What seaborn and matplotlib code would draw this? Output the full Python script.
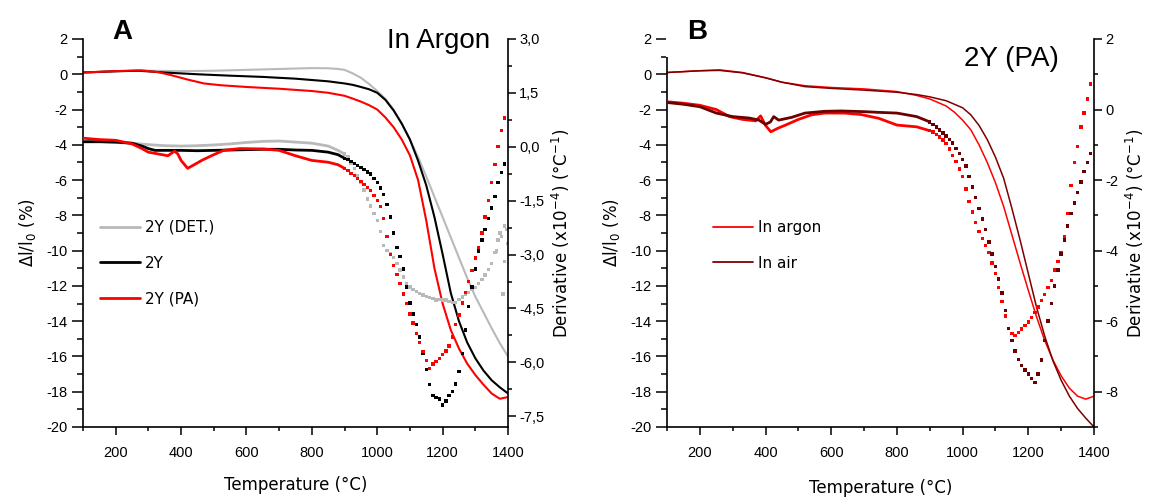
import numpy as np
import matplotlib
matplotlib.use("Agg")
import matplotlib.pyplot as plt
import seaborn as sns
from matplotlib.ticker import MultipleLocator, FuncFormatter
from matplotlib.patches import Rectangle
from matplotlib.lines import Line2D

# ------------------------------------------------------------------ data
# ---- Panel A : dilatometric curves (left axis, %)
tA_det = [100,150,200,250,300,400,500,600,700,800,850,880,900,925,950,975,1000,1025,1050,1075,1100,1125,1150,1175,1200,1225,1250,1275,1300,1325,1350,1375,1400]
lA_det = [0.1,0.13,0.17,0.2,0.2,0.18,0.2,0.25,0.3,0.35,0.34,0.3,0.25,0.05,-0.2,-0.55,-0.95,-1.4,-2.0,-2.8,-3.7,-4.7,-5.8,-6.95,-8.1,-9.25,-10.4,-11.55,-12.6,-13.5,-14.4,-15.25,-16.0]

tA_2y = [100,200,270,350,450,550,650,750,850,900,925,950,975,1000,1025,1050,1075,1100,1125,1150,1175,1200,1225,1250,1275,1300,1325,1350,1375,1400]
lA_2y = [0.1,0.17,0.2,0.1,0.0,-0.08,-0.15,-0.25,-0.4,-0.52,-0.6,-0.72,-0.85,-1.05,-1.45,-2.05,-2.8,-3.7,-4.9,-6.3,-8.1,-10.2,-12.4,-14.0,-15.2,-16.1,-16.8,-17.35,-17.75,-18.1]

tA_pa = [100,200,280,330,370,420,470,520,600,700,800,850,900,925,950,975,1000,1025,1050,1075,1100,1125,1150,1175,1200,1225,1250,1275,1300,1325,1350,1375,1400]
lA_pa = [0.1,0.18,0.22,0.12,-0.05,-0.3,-0.52,-0.62,-0.72,-0.82,-0.95,-1.05,-1.22,-1.38,-1.55,-1.75,-2.0,-2.45,-3.0,-3.7,-4.6,-6.0,-8.3,-11.0,-13.0,-14.5,-15.55,-16.4,-17.05,-17.6,-18.1,-18.4,-18.3]

# ---- Panel A : derivatives (right axis, x1e-4 /°C)
# low-temperature part (dense points, drawn as a trace)
tdA_2y_low = [100,150,200,250,280,300,320,350,400,450,500,550,600,650,700,750,800,850,880,900]
dA_2y_low = [0.14,0.14,0.13,0.1,0.02,-0.05,-0.1,-0.1,-0.1,-0.11,-0.1,-0.09,-0.08,-0.07,-0.07,-0.09,-0.1,-0.15,-0.22,-0.32]
tdA_pa_low = [100,150,200,250,280,300,330,360,380,390,400,420,440,465,500,530,580,650,700,750,800,850,880,900]
dA_pa_low = [0.24,0.2,0.18,0.08,-0.05,-0.15,-0.2,-0.25,-0.12,-0.2,-0.38,-0.6,-0.5,-0.37,-0.22,-0.1,-0.05,-0.06,-0.1,-0.25,-0.38,-0.43,-0.5,-0.6]
tdA_det_low = [100,150,200,250,300,350,400,450,500,550,600,650,700,750,800,850,880,900]
dA_det_low = [0.14,0.15,0.12,0.1,0.06,0.03,0.02,0.03,0.05,0.08,0.12,0.15,0.16,0.13,0.1,0.02,-0.1,-0.2]

# high-temperature part, one point every 10 °C from 900 to 1390 °C
t_high = np.arange(900, 1400, 10)
dA_2y_high = [-0.32,-0.36,-0.41,-0.46,-0.52,-0.58,-0.64,-0.70,-0.76,-0.88,
              -1.0,-1.15,-1.33,-1.6,-1.95,-2.4,-2.8,-3.05,-3.4,-3.9,
              -4.35,-4.65,-4.95,-5.3,-5.75,-6.2,-6.62,-6.92,-6.98,-7.02,
              -7.19,-7.08,-6.92,-6.82,-6.6,-6.25,-5.75,-5.1,-4.45,-3.9,
              -3.4,-2.9,-2.6,-2.3,-2.0,-1.7,-1.38,-1.0,-0.72,-0.48]
dA_pa_high = [-0.6,-0.66,-0.74,-0.8,-0.88,-0.96,-1.05,-1.14,-1.22,-1.35,
              -1.5,-1.66,-2.0,-2.5,-3.0,-3.3,-3.55,-3.8,-4.1,-4.36,
              -4.65,-4.91,-5.2,-5.45,-5.7,-5.95,-6.17,-6.05,-5.98,-5.9,
              -5.78,-5.68,-5.55,-5.3,-4.95,-4.68,-4.35,-4.05,-3.75,-3.45,
              -3.1,-2.8,-2.4,-1.95,-1.5,-1.0,-0.5,0.0,0.45,0.8]
dA_det_high = [-0.2,-0.28,-0.45,-0.6,-0.8,-1.0,-1.2,-1.45,-1.65,-1.85,
               -2.05,-2.35,-2.75,-2.88,-2.97,-3.08,-3.25,-3.43,-3.62,-3.8,
               -3.9,-3.97,-4.03,-4.08,-4.13,-4.17,-4.2,-4.23,-4.26,-4.25,
               -4.27,-4.26,-4.3,-4.33,-4.34,-4.25,-4.18,-4.12,-4.05,-3.98,
               -3.92,-3.8,-3.7,-3.57,-3.42,-3.25,-2.95,-2.6,-2.5,-2.2]
tdA_det_extra = [1365,1375,1385,1390,1395,1400]
dA_det_extra = [-2.9,-2.4,-4.1,-3.2,-2.3,-2.7]

# ---- Panel B : dilatometric curves (left axis, %)
tB = [100,200,260,330,400,450,520,600,700,800,860,900,950,975,1000,1025,1050,1075,1100,1125,1150,1175,1200,1225,1250,1275,1300,1325,1350,1375,1400]
lB_argon = [0.1,0.2,0.25,0.1,-0.2,-0.45,-0.65,-0.75,-0.83,-0.98,-1.2,-1.4,-1.8,-2.15,-2.6,-3.15,-4.0,-5.0,-6.15,-7.5,-9.1,-10.7,-12.25,-13.75,-15.1,-16.2,-17.1,-17.8,-18.25,-18.42,-18.25]
lB_air = [0.1,0.2,0.22,0.08,-0.2,-0.45,-0.7,-0.8,-0.9,-1.02,-1.15,-1.28,-1.5,-1.7,-1.9,-2.3,-2.9,-3.7,-4.7,-5.9,-7.6,-9.4,-11.3,-13.2,-14.85,-16.25,-17.35,-18.25,-18.95,-19.5,-20.0]

# ---- Panel B : derivatives (right axis)
tdB_argon_low = [100,150,200,250,290,330,370,385,400,416,440,461,500,540,580,640,690,745,800,860,900]
dB_argon_low = [0.22,0.18,0.12,0.0,-0.2,-0.28,-0.32,-0.18,-0.45,-0.63,-0.52,-0.44,-0.28,-0.15,-0.1,-0.1,-0.14,-0.25,-0.44,-0.49,-0.6]
tdB_air_low = [100,150,200,250,300,350,380,400,415,425,440,480,520,580,630,700,745,800,860,900]
dB_air_low = [0.2,0.15,0.08,-0.1,-0.2,-0.24,-0.3,-0.42,-0.35,-0.2,-0.3,-0.22,-0.1,-0.05,-0.04,-0.06,-0.08,-0.1,-0.2,-0.35]
dB_argon_high = [-0.6,-0.64,-0.7,-0.78,-0.86,-0.96,-1.12,-1.3,-1.48,-1.68,
                 -1.9,-2.25,-2.6,-2.9,-3.2,-3.45,-3.65,-3.85,-4.05,-4.35,
                 -4.65,-5.05,-5.45,-5.85,-6.2,-6.35,-6.4,-6.32,-6.22,-6.12,
                 -6.02,-5.9,-5.76,-5.6,-5.42,-5.25,-5.05,-4.85,-4.55,-4.3,
                 -4.05,-3.6,-2.95,-2.15,-1.5,-1.05,-0.5,-0.1,0.3,0.72]
dB_air_high = [-0.35,-0.43,-0.5,-0.58,-0.66,-0.75,-0.85,-0.95,-1.1,-1.25,
               -1.42,-1.6,-1.9,-2.2,-2.5,-2.8,-3.1,-3.4,-3.75,-4.1,
               -4.45,-4.8,-5.2,-5.7,-6.2,-6.55,-6.85,-7.08,-7.25,-7.38,
               -7.5,-7.62,-7.74,-7.5,-7.1,-6.55,-6.0,-5.5,-5.0,-4.55,
               -4.1,-3.7,-3.3,-2.95,-2.65,-2.35,-2.05,-1.75,-1.5,-1.25]

# ------------------------------------------------------------------ style
sns.set_style("ticks")
plt.rcParams["font.family"] = ["Liberation Sans", "DejaVu Sans"]
plt.rcParams["axes.unicode_minus"] = False
plt.rcParams["mathtext.fontset"] = "dejavusans"
for k in ("text.color", "axes.labelcolor", "xtick.color", "ytick.color", "axes.edgecolor"):
    plt.rcParams[k] = "black"

C_DET = "#b9b9b9"
C_2Y = "#000000"
C_PA = "#ff0000"
C_AIR = "#7d0000"
C_AIR_D = "#6a0000"

W, H = 1167, 500
fig = plt.figure(figsize=(W / 100, H / 100), dpi=100)
fig.patch.set_facecolor("white")


def box(l, r, t, b):
    return [l / W, 1 - b / H, (r - l) / W, (b - t) / H]


axA = fig.add_axes(box(83, 508, 39, 427))
axB = fig.add_axes(box(667, 1094, 39, 427))
axA2 = axA.twinx()
axB2 = axB.twinx()

LABEL_FONT = dict(family=["DejaVu Sans"], size=12, color="black")


def style_main(ax):
    ax.set_xlim(100, 1400)
    ax.set_ylim(-20, 2)
    ax.xaxis.set_major_locator(MultipleLocator(200))
    ax.xaxis.set_minor_locator(MultipleLocator(100))
    ax.yaxis.set_major_locator(MultipleLocator(2))
    ax.yaxis.set_minor_locator(MultipleLocator(1))
    ax.spines["top"].set_visible(False)
    ax.spines["right"].set_visible(False)
    for s in ("left", "bottom"):
        ax.spines[s].set_linewidth(1.2)
        ax.spines[s].set_color("black")
    ax.tick_params(axis="y", which="major", direction="out", length=8, width=1.1,
                   labelsize=10.5, pad=3, colors="black")
    ax.tick_params(axis="y", which="minor", direction="out", length=4, width=1.1, colors="black")
    ax.tick_params(axis="x", which="major", direction="out", length=5.5, width=1.1,
                   labelsize=10.5, pad=8, colors="black")
    ax.tick_params(axis="x", which="minor", direction="out", length=3, width=1.1, colors="black")
    ax.set_facecolor("none")


def style_twin(ax2):
    for s in ("top", "left", "bottom"):
        ax2.spines[s].set_visible(False)
    ax2.spines["right"].set_linewidth(1.2)
    ax2.spines["right"].set_color("black")
    ax2.tick_params(axis="y", which="major", direction="out", length=6, width=1.1,
                    labelsize=10.5, pad=2, colors="black")
    ax2.tick_params(axis="y", which="minor", direction="out", length=3, width=1.1, colors="black")


for ax in (axA, axB):
    style_main(ax)
for ax2 in (axA2, axB2):
    style_twin(ax2)

# ------------------------------------------------------------------ panel A
sns.lineplot(x=tA_det, y=lA_det, ax=axA, color=C_DET, lw=1.5, estimator=None, legend=False)
sns.lineplot(x=tA_2y, y=lA_2y, ax=axA, color=C_2Y, lw=1.5, estimator=None, legend=False)
sns.lineplot(x=tA_pa, y=lA_pa, ax=axA, color=C_PA, lw=1.5, estimator=None, legend=False)

for tl, dl, dh, c in ((tdA_det_low, dA_det_low, dA_det_high, C_DET),
                      (tdA_2y_low, dA_2y_low, dA_2y_high, C_2Y),
                      (tdA_pa_low, dA_pa_low, dA_pa_high, C_PA)):
    sns.lineplot(x=tl, y=dl, ax=axA2, color=c, lw=2.0, estimator=None, legend=False)
    sns.scatterplot(x=t_high, y=dh, ax=axA2, color=c, marker="s", s=6,
                    linewidth=0, edgecolor="none", legend=False)
sns.scatterplot(x=tdA_det_extra, y=dA_det_extra, ax=axA2, color=C_DET, marker="s", s=6,
                linewidth=0, edgecolor="none", legend=False)

axA2.set_ylim(-7.8, 3.0)
axA2.yaxis.set_major_locator(MultipleLocator(1.5))
axA2.yaxis.set_minor_locator(MultipleLocator(0.75))
axA2.yaxis.set_major_formatter(FuncFormatter(
    lambda v, p: ("%.1f" % (0.0 if abs(v) < 1e-9 else v)).replace(".", ",")))

# ------------------------------------------------------------------ panel B
sns.lineplot(x=tB, y=lB_argon, ax=axB, color=C_PA, lw=1.1, estimator=None, legend=False)
sns.lineplot(x=tB, y=lB_air, ax=axB, color=C_AIR, lw=1.1, estimator=None, legend=False)

for tl, dl, dh, c in ((tdB_argon_low, dB_argon_low, dB_argon_high, C_PA),
                      (tdB_air_low, dB_air_low, dB_air_high, C_AIR_D)):
    sns.lineplot(x=tl, y=dl, ax=axB2, color=c, lw=2.0, estimator=None, legend=False)
    sns.scatterplot(x=t_high, y=dh, ax=axB2, color=c, marker="s", s=6,
                    linewidth=0, edgecolor="none", legend=False)

axB2.set_ylim(-9, 2)
axB2.yaxis.set_major_locator(MultipleLocator(2))
axB2.yaxis.set_minor_locator(MultipleLocator(1))

# ------------------------------------------------------------------ labels
for ax, pad in ((axA, 12), (axB, 14)):
    ax.set_xlabel("Temperature (°C)", fontdict=LABEL_FONT, labelpad=pad)
    ax.set_ylabel("Δl/l$_0$ (%)", fontdict=LABEL_FONT, labelpad=6)
for ax2 in (axA2, axB2):
    ax2.set_ylabel("Derivative (x10$^{-4}$) (°C$^{-1}$)", fontdict=LABEL_FONT, labelpad=4)

leg_kw = dict(loc="upper left", bbox_transform=fig.transFigure, frameon=False,
              borderpad=0, borderaxespad=0, handlelength=2.6, handletextpad=0.35,
              labelspacing=1.35, prop=dict(family=["DejaVu Sans"], size=11))
legA = axA.legend(handles=[Line2D([], [], color=C_DET, lw=2.0),
                           Line2D([], [], color=C_2Y, lw=2.0),
                           Line2D([], [], color=C_PA, lw=2.0)],
                  labels=["2Y (DET.)", "2Y", "2Y (PA)"],
                  bbox_to_anchor=(100 / W, 1 - 220 / H), **leg_kw)
legB = axB.legend(handles=[Line2D([], [], color=C_PA, lw=1.3),
                           Line2D([], [], color=C_AIR, lw=1.3)],
                  labels=["In argon", "In air"],
                  bbox_to_anchor=(713 / W, 1 - 220 / H), **leg_kw)
for lg in (legA, legB):
    for t in lg.get_texts():
        t.set_color("black")

# white label box hiding the top of panel B's left spine
fig.add_artist(Rectangle((666 / W, 1 - 57 / H), 64 / W, 57 / H, transform=fig.transFigure,
                         facecolor="white", edgecolor="none", zorder=10))

fig.text(122 / W, 1 - 32 / H, "A", ha="center", va="center", fontsize=20,
         fontweight="bold", color="black", zorder=11)
fig.text(697 / W, 1 - 32 / H, "B", ha="center", va="center", fontsize=20,
         fontweight="bold", color="black", zorder=11)
fig.text(490 / W, 1 - 41 / H, "In Argon", ha="right", va="center", fontsize=20,
         color="black", zorder=11)
fig.text(1059 / W, 1 - 59 / H, "2Y (PA)", ha="right", va="center", fontsize=20,
         color="black", zorder=11)

fig.savefig("out.png", dpi=100, facecolor="white")
